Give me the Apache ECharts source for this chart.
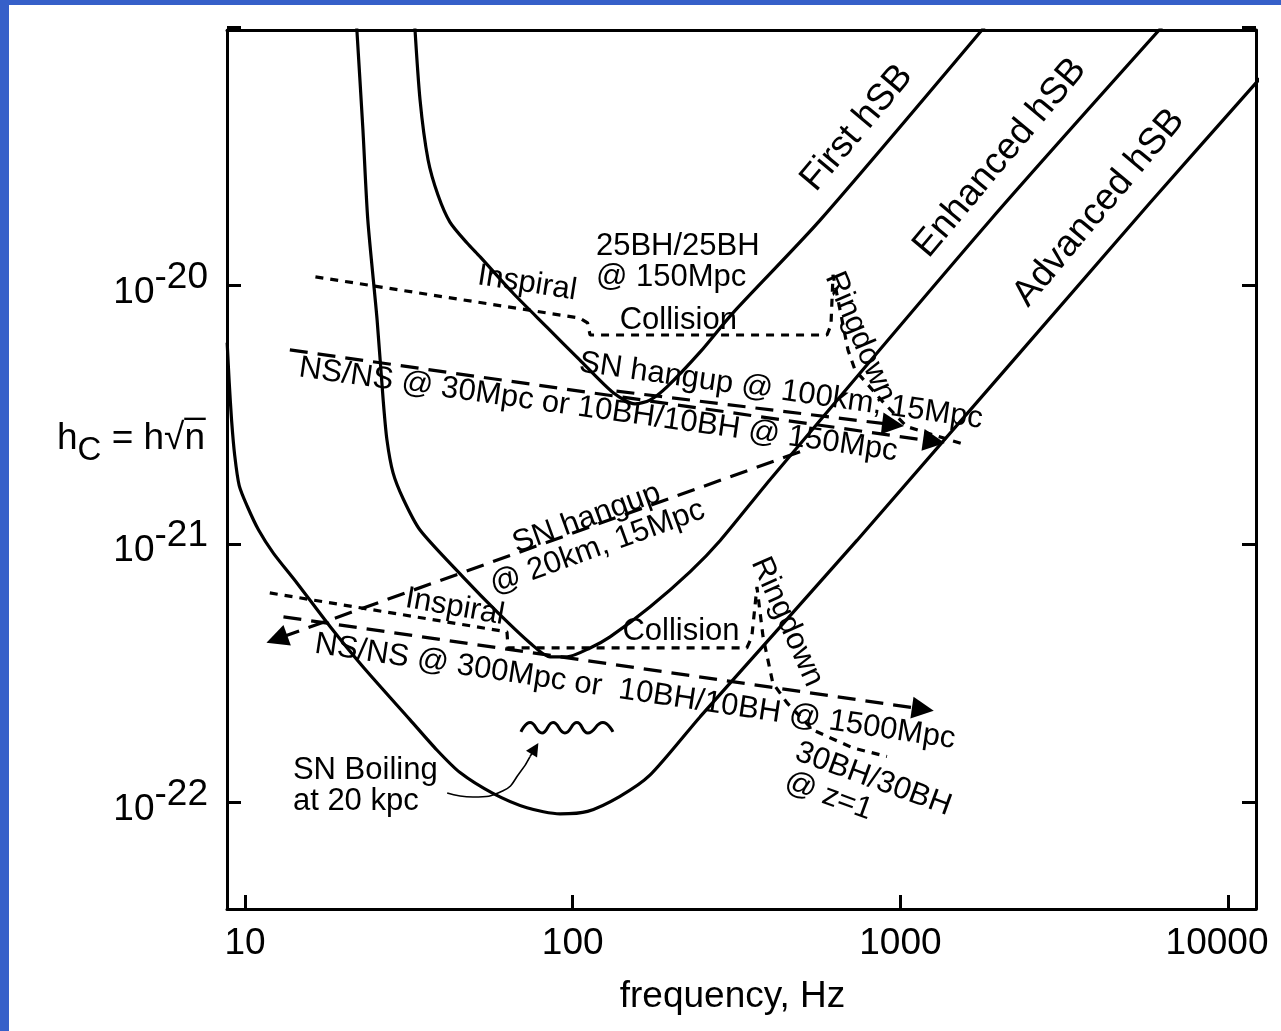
<!DOCTYPE html>
<html>
<head>
<meta charset="utf-8">
<script src="https://cdn.jsdelivr.net/npm/echarts@6/dist/echarts.min.js"></script>
<style>
html,body{margin:0;padding:0;background:#fff;}
#c{width:1281px;height:1031px;}
#err{position:absolute;left:300px;top:100px;font:14px monospace;color:red;white-space:pre-wrap;width:900px;}
</style>
</head>
<body>
<div id="c"></div>
<div id="err"></div>
<script>
window.onerror = function(m){ document.getElementById('err').textContent += 'ERR: ' + m + '\n'; };
// ---------- axes ----------
const xRange = [8.81, 12170];          // frequency, Hz
const yRange = [3.853e-23, 9.754e-20]; // h_c

// ---------- sensitivity curves [frequency Hz, h_c] ----------
const firstHSB = [[32.8,1.12e-19],[34.2,5.24e-20],[36.2,3.06e-20],[38.8,2.24e-20],[42.2,1.76e-20],[47.6,1.46e-20],[52.2,1.29e-20],[65.7,9.35e-21],[83.4,6.9e-21],[105,5.15e-21],[133,3.84e-21],[155,3.48e-21],[172,3.6e-21],[194,4.05e-21],[245,5.53e-21],[308,7.82e-21],[569,1.79e-20],[1944,1.12e-19]];
const enhancedHSB = [[21.8,1.12e-19],[22.9,4.0e-20],[23.7,1.79e-20],[25.3,7.35e-21],[26.4,3.6e-21],[27.1,2.53e-21],[28.3,1.88e-21],[30.4,1.49e-21],[34.2,1.13e-21],[46.3,7.43e-22],[59.2,5.4e-22],[74.1,4.13e-22],[85.2,3.65e-22],[96.1,3.65e-22],[113,3.95e-22],[130,4.36e-22],[172,5.69e-22],[228,7.78e-22],[282,1.03e-21],[400,1.77e-21],[1880,1.79e-20],[6880,1.14e-19]];
const advancedHSB = [[8.82,6.0e-21],[8.95,4.2e-21],[9.1,3.0e-21],[9.3,2.2e-21],[9.6,1.68e-21],[10.15,1.40e-21],[11.0,1.13e-21],[12.2,9.2e-22],[14.4,7.05e-22],[18.2,4.77e-22],[22.9,3.34e-22],[31.9,2.08e-22],[38.5,1.59e-22],[45.3,1.30e-22],[57.1,1.08e-22],[72.5,9.5e-23],[91.5,9.0e-23],[111,9.2e-23],[139,1.05e-22],[172,1.27e-22],[245,2.14e-22],[737,1.03e-21],[5780,2.09e-20],[12500,6.32e-20]];

// ---------- binary black hole tracks (inspiral / collision / ringdown) ----------
const bbh25at150 = [[16.4,1.08e-20],[105,7.48e-21],[111,7.16e-21],[113,6.43e-21],[597,6.43e-21],[614,7.03e-21],[623,1.1e-20],[692,5.63e-21],[727,4.71e-21],[885,3.54e-21],[1047,2.84e-21],[1575,2.42e-21]];
const bbh30atZ1 = [[11.9,6.45e-22],[63,4.56e-22],[63.5,3.95e-22],[340,3.95e-22],[352,4.36e-22],[365,6.8e-22],[381,4.36e-22],[408,2.89e-22],[451,2.42e-22],[541,1.9e-22],[716,1.62e-22],[910,1.5e-22]];

// ---------- arrows [start, end] ----------
const arrowNS30 = [[13.7,5.63e-21],[1266,2.49e-21]];
const arrowSN100 = [[136,3.9e-21],[950,2.89e-21]];
const arrowSN20 = [[494,2.27e-21],[12.5,4.28e-22]];
const arrowNS300 = [[13.1,5.21e-22],[1171,2.29e-22]];

// ---------- SN boiling ----------
const snBoilWave = [[69.5,1.87e-22],[74.1,2.03e-22],[80.6,1.85e-22],[87.1,2.03e-22],[94.7,1.85e-22],[103,2.03e-22],[111.2,1.85e-22],[123.6,2.03e-22],[132.7,1.87e-22]];
const snBoilPointer = [[41.4,1.084e-22],[49.6,1.046e-22],[61.3,1.105e-22],[69,1.3e-22],[74.1,1.5e-22]];
const snBoilHead = [[74.1,1.5e-22],[76.7,1.61e-22]];

// ---------- annotation texts and anchors [frequency, h_c] ----------
const annoTexts = ['First hSB','Enhanced hSB','Advanced hSB','25BH/25BH\n@ 150Mpc','Inspiral','Collision','Ringdown','SN hangup @ 100km, 15Mpc','NS/NS @ 30Mpc or 10BH/10BH @ 150Mpc','SN hangup\n@ 20km, 15Mpc','Inspiral','Collision','Ringdown','NS/NS @ 300Mpc or  10BH/10BH @ 1500Mpc','30BH/30BH\n@ z=1','SN Boiling\nat 20 kpc'];
const annoAnchors = [[737,4.07e-20],[2015,3.12e-20],[4037,2.0e-20],[117.7,1.23e-20],[72.6,1.02e-20],[210,7.35e-21],[753,6.32e-21],[432,3.9e-21],[119.7,3.3e-21],[114.5,1.1e-21],[43.7,5.69e-22],[214,4.59e-22],[451,4.99e-22],[155,2.67e-22],[464,1.38e-22],[14.0,1.156e-22]];

// ---------- styling (not data) ----------
const FONT = '"Liberation Sans", Arial, Helvetica, sans-serif';
const annoRotate = [50,50,50,0,-9,0,-67,-8,-8,20,-10,0,-66,-8.5,-20,0];
const annoAlign  = ['center','center','center','left','center','center','center','center','center','center','center','center','center','center','left','left'];
const annoSize   = [37,37,37,31,31,31,31,31,31,31,31,31,31,31,31,31];

function isPow10(v){ const l = Math.log10(v); return Math.abs(l - Math.round(l)) < 1e-6; }
function inRange(v, r){ return v >= r[0] * 0.9999 && v <= r[1] * 1.0001; }

const chart = echarts.init(document.getElementById('c'), null, {renderer:'canvas'});

const solid = {color:'#000', width:3.2};
const dotted = {color:'#000', width:3.2, type:[8,7]};

const annoData = annoTexts.map((t,i)=>({
  value: annoAnchors[i],
  label: {
    show:true, position:'inside', formatter:t, rotate:annoRotate[i],
    align:annoAlign[i], verticalAlign:'middle',
    fontSize:annoSize[i], lineHeight:31, fontFamily:FONT, color:'#000',
    textBorderWidth:0, textBorderColor:'transparent', textShadowBlur:0, opacity:1
  }
}));

const axisLineStyle = {show:true, onZero:false, lineStyle:{color:'#000', width:3}};

const option = {
  animation:false,
  backgroundColor:'#fff',
  grid:{left:227, right:25, top:30, bottom:122, outerBoundsMode:'none'},
  xAxis:[{
    type:'log', logBase:10, min:xRange[0], max:xRange[1], position:'bottom',
    axisLine:axisLineStyle,
    axisTick:{show:true, inside:true, length:14, lineStyle:{color:'#000', width:3}},
    splitLine:{show:false}, minorTick:{show:false},
    axisLabel:{
      show:true, margin:16, fontSize:37, fontFamily:FONT, color:'#000',
      showMinLabel:true, showMaxLabel:true, hideOverlap:false,
      formatter:(v)=>{ if(!isPow10(v) || !inRange(v, xRange)) return ''; const s = String(Math.round(v)); return s==='10000' ? '{r|'+s+'}' : s; },
      rich:{r:{fontSize:37, fontFamily:FONT, color:'#000', padding:[0,22,0,0]}}
    },
    name:'frequency, Hz', nameLocation:'middle', nameGap:69, nameMoveOverlap:false,
    nameTextStyle:{fontSize:37, fontFamily:FONT, color:'#000', padding:[0,18,0,0]}
  },{
    type:'log', logBase:10, min:xRange[0], max:xRange[1], position:'top',
    axisLine:axisLineStyle,
    axisTick:{show:false}, axisLabel:{show:false}, splitLine:{show:false}
  }],
  yAxis:[{
    type:'log', logBase:10, min:yRange[0], max:yRange[1], position:'left',
    axisLine:axisLineStyle,
    axisTick:{show:true, inside:true, length:14, lineStyle:{color:'#000', width:3}},
    splitLine:{show:false}, minorTick:{show:false},
    axisLabel:{
      show:true, margin:19, hideOverlap:false,
      formatter:(v)=>{ if(!isPow10(v) || !inRange(v, yRange)) return ''; return '{b|10}{s|'+Math.round(Math.log10(v))+'}'; },
      rich:{
        b:{fontSize:37, fontFamily:FONT, color:'#000', verticalAlign:'bottom'},
        s:{fontSize:37, fontFamily:FONT, color:'#000', verticalAlign:'bottom', padding:[0,0,15,0]}
      }
    },
    name:'{a|h}{c|C}{a| = h√n\u0305}', nameLocation:'middle', nameRotate:0, nameGap:22, nameMoveOverlap:false,
    nameTextStyle:{
      padding:[0,0,52,0],
      rich:{
        a:{fontSize:37, fontFamily:FONT, color:'#000', verticalAlign:'top'},
        c:{fontSize:33, fontFamily:FONT, color:'#000', verticalAlign:'top', padding:[14,0,0,0]}
      }
    }
  },{
    type:'log', logBase:10, min:yRange[0], max:yRange[1], position:'right',
    axisLine:axisLineStyle,
    axisTick:{show:true, inside:true, length:14, lineStyle:{color:'#000', width:3}},
    axisLabel:{show:false}, splitLine:{show:false}
  }],
  graphic:[
    {type:'rect', shape:{x:0,y:0,width:9,height:1031}, style:{fill:'#3660c9'}, z:100},
    {type:'rect', shape:{x:0,y:0,width:1281,height:5}, style:{fill:'#3660c9'}, z:100}
  ],
  series:[
    {name:'First hSB', type:'line', data:firstHSB, symbol:'none', smooth:0.25, lineStyle:solid, silent:true, z:2},
    {name:'Enhanced hSB', type:'line', data:enhancedHSB, symbol:'none', smooth:0.25, lineStyle:solid, silent:true, z:2},
    {name:'Advanced hSB', type:'line', data:advancedHSB, symbol:'none', smooth:0.25, lineStyle:solid, silent:true, z:2},
    {name:'25BH/25BH @ 150Mpc', type:'line', data:bbh25at150, symbol:'none', lineStyle:dotted, silent:true, z:2},
    {name:'30BH/30BH @ z=1', type:'line', data:bbh30atZ1, symbol:'none', lineStyle:dotted, silent:true, z:2},
    {name:'arrows', type:'lines', coordinateSystem:'cartesian2d', polyline:false,
     symbol:['none','triangle'], symbolSize:[13,22], silent:true, z:3,
     lineStyle:{color:'#000', width:3.2, type:[18,10], opacity:1},
     data:[{coords:arrowNS30},{coords:arrowSN100},{coords:arrowSN20},{coords:arrowNS300}]},
    {name:'SN boiling', type:'line', data:snBoilWave, symbol:'none', smooth:true, lineStyle:{color:'#000', width:3}, silent:true},
    {name:'SN boiling pointer', type:'line', data:snBoilPointer, symbol:'none', smooth:true, lineStyle:{color:'#000', width:1.6}, silent:true},
    {name:'SN boiling head', type:'lines', coordinateSystem:'cartesian2d', symbol:['none','triangle'], symbolSize:[9,13], silent:true,
     lineStyle:{color:'#000', width:1.6, opacity:1}, data:[{coords:snBoilHead}]},
    {name:'annotations', type:'scatter', data:annoData, symbol:'circle', symbolSize:1,
     itemStyle:{color:'rgba(0,0,0,0)'}, silent:true, z:5}
  ]
};
chart.setOption(option);
</script>
</body>
</html>
